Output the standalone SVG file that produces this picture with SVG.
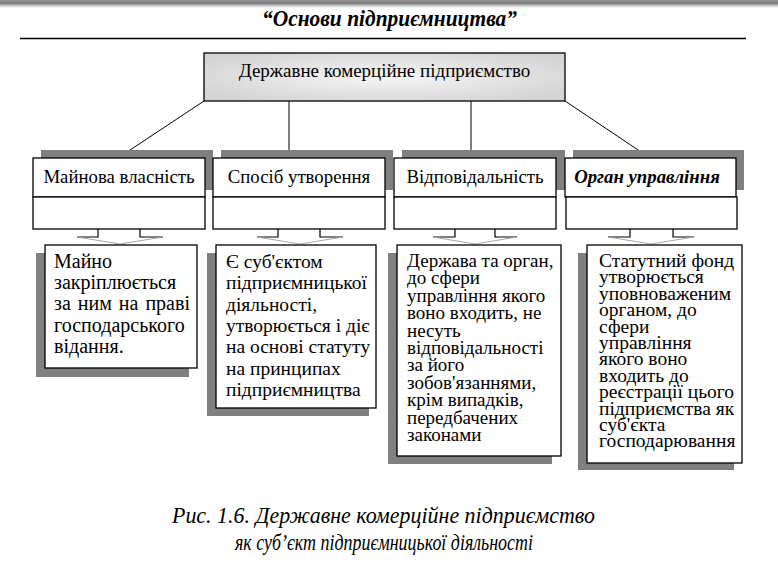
<svg xmlns="http://www.w3.org/2000/svg" width="778" height="569" viewBox="0 0 778 569">
<defs>
<linearGradient id="topbar" x1="0" y1="0" x2="0" y2="1">
<stop offset="0" stop-color="#9a9a9a"/>
<stop offset="0.4" stop-color="#7a7a7a"/>
<stop offset="0.7" stop-color="#c8c8c8"/>
<stop offset="1" stop-color="#ffffff"/>
</linearGradient>
<radialGradient id="mainfill" cx="0.5" cy="0.5" r="0.6">
<stop offset="0" stop-color="#f6f6f6"/>
<stop offset="1" stop-color="#d4d4d4"/>
</radialGradient>
</defs>
<style>
text{font-family:'Liberation Serif','Times New Roman',serif;fill:#000}
.box{fill:#fff;stroke:#000;stroke-width:1.3}
.shadow{fill:#808080}
.hdr{font-size:18.8px;text-anchor:middle}
.b1{font-size:20px}
.b2{font-size:19.5px}
.b3{font-size:19px}
.b4{font-size:19.5px}
.conn{stroke:#000;stroke-width:1;fill:none}
.stub{stroke:#000;stroke-width:1.2;fill:none}
.tip{stroke:#a8a8a8;stroke-width:1;fill:none}
</style>
<rect x="0" y="0" width="778" height="8" fill="url(#topbar)"/>
<text x="389.5" y="26" style="font-size:24px;font-style:italic;font-weight:bold" text-anchor="middle" textLength="255" lengthAdjust="spacingAndGlyphs">“Основи підприємництва”</text>
<line x1="20" y1="38.5" x2="746" y2="38.5" stroke="#000" stroke-width="1.3"/>

<g id="connectors">
<line class="conn" x1="204" y1="101" x2="118" y2="158"/>
<line class="conn" x1="289" y1="101" x2="289" y2="158"/>
<line class="conn" x1="471" y1="101" x2="471" y2="158"/>
<line class="conn" x1="565" y1="101" x2="650" y2="158"/>
<polyline class="stub" points="98,229 98,237 77,237"/>
<polyline class="stub" points="140,229 140,237 163,237"/>
<polyline class="tip" points="77,237 120,244 163,237"/>
<polyline class="stub" points="278,229 278,237 257,237"/>
<polyline class="stub" points="320,229 320,237 343,237"/>
<polyline class="tip" points="257,237 300,244 343,237"/>
<polyline class="stub" points="455,229 455,237 433,237"/>
<polyline class="stub" points="495,229 495,237 517,237"/>
<polyline class="tip" points="433,237 475,244 517,237"/>
<polyline class="stub" points="630,229 630,237 608,237"/>
<polyline class="stub" points="673,229 673,237 694,237"/>
<polyline class="tip" points="608,237 651,244 694,237"/>
</g>

<g id="main">
<rect x="204" y="53" width="361" height="48" fill="url(#mainfill)" stroke="#000" stroke-width="1.3"/>
<text x="384.5" y="77" style="font-size:19px" text-anchor="middle">Державне комерційне підприємство</text>
</g>

<g id="h1">
<rect class="shadow" x="41" y="150" width="172" height="40"/>
<rect class="box" x="33" y="158" width="172" height="39"/>
<text class="hdr" x="119" y="183">Майнова власність</text>
<rect class="box" x="33" y="197" width="172" height="32"/>
</g>
<g id="h2">
<rect class="shadow" x="221" y="150" width="172" height="40"/>
<rect class="box" x="213" y="158" width="172" height="39"/>
<text class="hdr" x="299" y="183">Спосіб утворення</text>
<rect class="box" x="213" y="197" width="172" height="32"/>
</g>
<g id="h3">
<rect class="shadow" x="402" y="150" width="163" height="40"/>
<rect class="box" x="394" y="158" width="162" height="39"/>
<text class="hdr" x="475" y="183">Відповідальність</text>
<rect class="box" x="394" y="197" width="162" height="32"/>
</g>
<g id="h4">
<rect class="shadow" x="573" y="150" width="171" height="40"/>
<rect class="box" x="565" y="158" width="171" height="39"/>
<text class="hdr" x="647" y="183" style="font-weight:bold;font-style:italic">Орган управління</text>
<rect class="box" x="566" y="197" width="171" height="32"/>
</g>

<g id="t1">
<rect class="shadow" x="36" y="253" width="153" height="124"/>
<rect class="box" x="45" y="245" width="152" height="123"/>
<text class="b1">
<tspan x="54" y="268">Майно</tspan>
<tspan x="54" y="289.2">закріплюється</tspan>
<tspan x="54" y="310.4" style="word-spacing:2px">за ним на праві</tspan>
<tspan x="54" y="331.6">господарського</tspan>
<tspan x="54" y="352.8">відання.</tspan>
</text>
</g>
<g id="t2">
<rect class="shadow" x="207" y="253" width="162" height="163"/>
<rect class="box" x="216" y="245" width="160" height="163"/>
<text class="b2">
<tspan x="226" y="268">Є суб'єктом</tspan>
<tspan x="226" y="289.3">підприємницької</tspan>
<tspan x="226" y="310.6">діяльності,</tspan>
<tspan x="226" y="331.9">утворюється і діє</tspan>
<tspan x="226" y="353.2">на основі статуту</tspan>
<tspan x="226" y="374.5">на принципах</tspan>
<tspan x="226" y="395.8">підприємництва</tspan>
</text>
</g>
<g id="t3">
<rect class="shadow" x="388" y="253" width="164" height="211"/>
<rect class="box" x="397" y="245" width="164" height="211"/>
<text class="b3">
<tspan x="407" y="267">Держава та орган,</tspan>
<tspan x="407" y="284.4">до сфери</tspan>
<tspan x="407" y="301.8">управління якого</tspan>
<tspan x="407" y="319.2">воно входить, не</tspan>
<tspan x="407" y="336.6">несуть</tspan>
<tspan x="407" y="354">відповідальності</tspan>
<tspan x="407" y="371.4">за його</tspan>
<tspan x="407" y="388.8">зобов'язаннями,</tspan>
<tspan x="407" y="406.2">крім випадків,</tspan>
<tspan x="407" y="423.6">передбачених</tspan>
<tspan x="407" y="441">законами</tspan>
</text>
</g>
<g id="t4">
<rect class="shadow" x="578" y="253" width="156" height="217"/>
<rect class="box" x="587" y="245" width="155" height="218"/>
<text class="b4">
<tspan x="599" y="267">Статутний фонд</tspan>
<tspan x="599" y="283.4">утворюється</tspan>
<tspan x="599" y="299.8">уповноваженим</tspan>
<tspan x="599" y="316.2">органом, до</tspan>
<tspan x="599" y="332.6">сфери</tspan>
<tspan x="599" y="349">управління</tspan>
<tspan x="599" y="365.4">якого воно</tspan>
<tspan x="599" y="381.8">входить до</tspan>
<tspan x="599" y="398.2">реєстрації цього</tspan>
<tspan x="599" y="414.6">підприємства як</tspan>
<tspan x="599" y="431">суб'єкта</tspan>
<tspan x="599" y="447.4">господарювання</tspan>
</text>
</g>

<text x="383.5" y="523" style="font-size:23px;font-style:italic" text-anchor="middle" textLength="423" lengthAdjust="spacingAndGlyphs">Рис. 1.6. Державне комерційне підприємство</text>
<text x="384" y="550" style="font-size:23px;font-style:italic" text-anchor="middle" textLength="298" lengthAdjust="spacingAndGlyphs">як суб’єкт підприємницької діяльності</text>
</svg>
